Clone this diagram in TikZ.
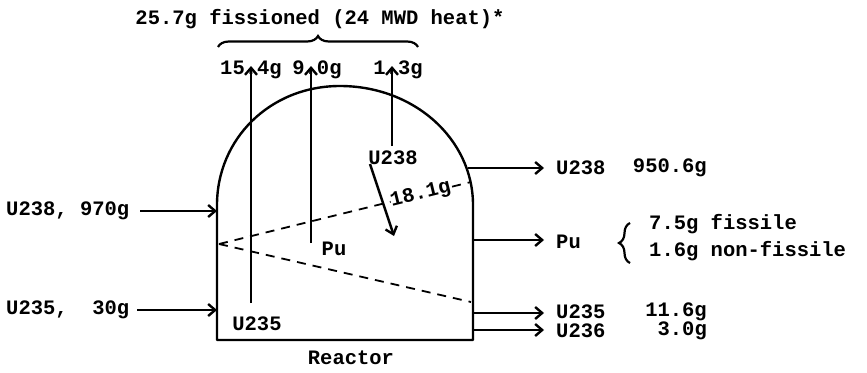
\documentclass[tikz,border=0pt]{standalone}
\usepackage{fontspec}
\setmainfont{Liberation Mono}
\usetikzlibrary{arrows.meta,positioning,decorations.pathreplacing}

\begin{document}
\begin{tikzpicture}[
  x=1pt,
  y=-1pt,
  every node/.style={font=\fontsize{20.5}{22}\selectfont\bfseries, inner sep=1pt},
  wall/.style={line width=2.4pt, line join=round},
  flow/.style={-{Straight Barb[length=7pt,width=12pt]}, line width=2.4pt},
  split/.style={dash pattern=on 9pt off 7pt, line width=1.8pt},
  grp/.style={decorate, decoration={brace, amplitude=11pt}, line width=2.2pt}
]
\useasboundingbox (0,0) rectangle (867,372);

% reactor vessel
\coordinate (wl) at (217,205);
\coordinate (bl) at (217,340);
\coordinate (br) at (473,340);
\coordinate (wr) at (473,205);
\draw[wall] (wl) -- (bl) -- (br) -- (wr)
  .. controls (473,139) and (414,86) .. (340,86)
  .. controls (270,86) and (217,139) .. (wl);
\node (rlabel) at (351,358) {Reactor};

% feed
\node[anchor=west] (u238in) at (5,211) {U238, 970g};
\node[anchor=west] (u235in) at (5,310) {U235,\ \ 30g};
\coordinate (inA) at (217,211);
\coordinate (inB) at (217,310);
\draw[flow, shorten <=10pt] (u238in) -- (inA);
\draw[flow, shorten <=7pt] (u235in) -- (inB);

% fissioned
\node (title) at (320,19) {25.7g fissioned (24 MWD heat)*};
\coordinate (bA) at (218,47);
\coordinate (bB) at (418,47);
\draw[grp] (bA) -- (bB);
\node (y235) at (251,70) {15.4g};
\node (ypu) at (317,70) {9.0g};
\node (y238) at (398,70) {1.3g};

\node (lu238) at (393,158) {U238};
\node (lpu) at (334,249) {Pu};
\node (lu235) at (257,324) {U235};
\coordinate (s235) at (251,303);
\coordinate (t235) at (251,66);
\coordinate (spu) at (311,243);
\coordinate (tpu) at (311,66);
\coordinate (s238) at (392,146);
\coordinate (t238) at (392,66);
\draw[flow] (s235) -- (t235);
\draw[flow] (spu) -- (tpu);
\draw[flow] (s238) -- (t238);

% capture
\coordinate (dA) at (370,164);
\coordinate (dB) at (394,236);
\draw[flow] (dA) -- (dB);
\coordinate (apex) at (219,244);
\coordinate (hi) at (471,182);
\coordinate (lo) at (471,302);
\draw[split] (apex) -- node[sloped, pos=0.8, fill=white, inner sep=0pt] (capt) {18.1g} (hi);
\draw[split] (apex) -- (lo);

% discharge
\coordinate (o238) at (468,168);
\coordinate (opu) at (473,240);
\coordinate (o235) at (473,313);
\coordinate (o236) at (473,330);
\node[anchor=west] (r238) at (555,168) {U238};
\node[anchor=west] (rpu) at (555,242) {Pu};
\node[anchor=west] (r235) at (555,312) {U235};
\node[anchor=west] (r236) at (555,331) {U236};
\draw[flow, shorten >=11pt] (o238) -- (r238);
\draw[flow, shorten >=11pt] (opu) -- (opu -| rpu.west);
\draw[flow, shorten >=11pt] (o235) -- (o235 -| r235.west);
\draw[flow, shorten >=11pt] (o236) -- (o236 -| r236.west);
\node[anchor=east] (v238) at (708,168) {950.6g};
\node[anchor=east] (v235) at (708,312) {11.6g};
\node[anchor=east] (v236) at (708,331) {3.0g};

\coordinate (pA) at (630,263);
\coordinate (pB) at (630,223);
\draw[grp] (pA) -- (pB);
\node[anchor=west] (fis) at (648,224) {7.5g fissile};
\node[anchor=west] (nfis) at (648,251) {1.6g non-fissile};
\end{tikzpicture}
\end{document}
